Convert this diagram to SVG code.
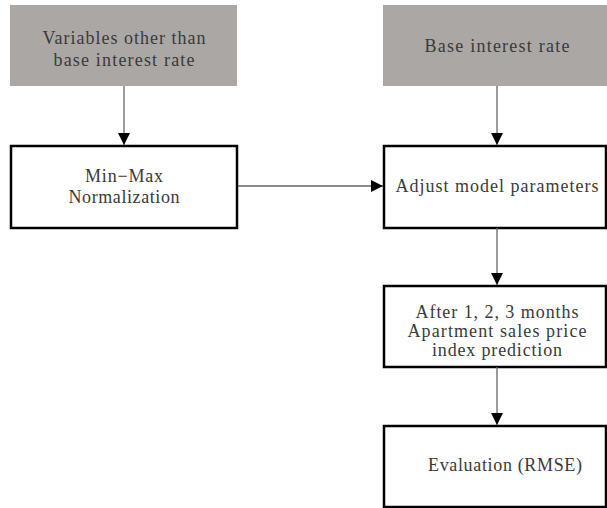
<svg xmlns="http://www.w3.org/2000/svg" width="607" height="508" viewBox="0 0 607 508">
<style>
.gray{fill:#aba7a4;stroke:none}
.box{fill:#fff;stroke:#000;stroke-width:2.5}
text{font-family:"Liberation Serif","DejaVu Serif",serif;font-size:18px;fill:#3a3a3a;text-anchor:middle}
.conn line{stroke:#666;stroke-width:1.3}
</style>
<defs>
<marker id="ah" viewBox="0 0 12 12" refX="12" refY="6" markerWidth="12" markerHeight="12" markerUnits="userSpaceOnUse" orient="auto">
<path d="M0,0 L12,6 L0,12 z" fill="#000"/>
</marker>
</defs>
<rect width="607" height="508" fill="#fff"/>
<g id="n-variables">
<rect class="gray" x="10" y="5" width="227" height="81"/>
<text x="124" y="44" textLength="163" lengthAdjust="spacing">Variables other than</text>
<text x="124" y="66" textLength="141" lengthAdjust="spacing">base interest rate</text>
</g>
<g id="n-base">
<rect class="gray" x="383" y="5" width="224" height="81"/>
<text x="497" y="52" textLength="145" lengthAdjust="spacing">Base interest rate</text>
</g>
<g id="n-minmax">
<rect class="box" x="11" y="146" width="226" height="82"/>
<text x="124" y="182" textLength="78" lengthAdjust="spacing">Min−Max</text>
<text x="124" y="203" textLength="111" lengthAdjust="spacing">Normalization</text>
</g>
<g id="n-adjust">
<rect class="box" x="384" y="146" width="222" height="82"/>
<text x="497" y="192" textLength="203" lengthAdjust="spacing">Adjust model parameters</text>
</g>
<g id="n-after">
<rect class="box" x="384" y="286" width="222" height="81"/>
<text x="497" y="318" textLength="163" lengthAdjust="spacing">After 1, 2, 3 months</text>
<text x="497" y="337" textLength="179" lengthAdjust="spacing">Apartment sales price</text>
<text x="497" y="356" textLength="130" lengthAdjust="spacing">index prediction</text>
</g>
<g id="n-eval">
<rect class="box" x="384" y="426" width="222" height="81"/>
<text x="505" y="471" textLength="154" lengthAdjust="spacing">Evaluation (RMSE)</text>
</g>
<g id="connectors" class="conn">
<line x1="124" y1="86" x2="124" y2="145" marker-end="url(#ah)"/>
<line x1="497" y1="86" x2="497" y2="145" marker-end="url(#ah)"/>
<line x1="238" y1="186" x2="383" y2="186" marker-end="url(#ah)"/>
<line x1="497" y1="228" x2="497" y2="285" marker-end="url(#ah)"/>
<line x1="497" y1="367" x2="497" y2="425" marker-end="url(#ah)"/>
</g>
</svg>
